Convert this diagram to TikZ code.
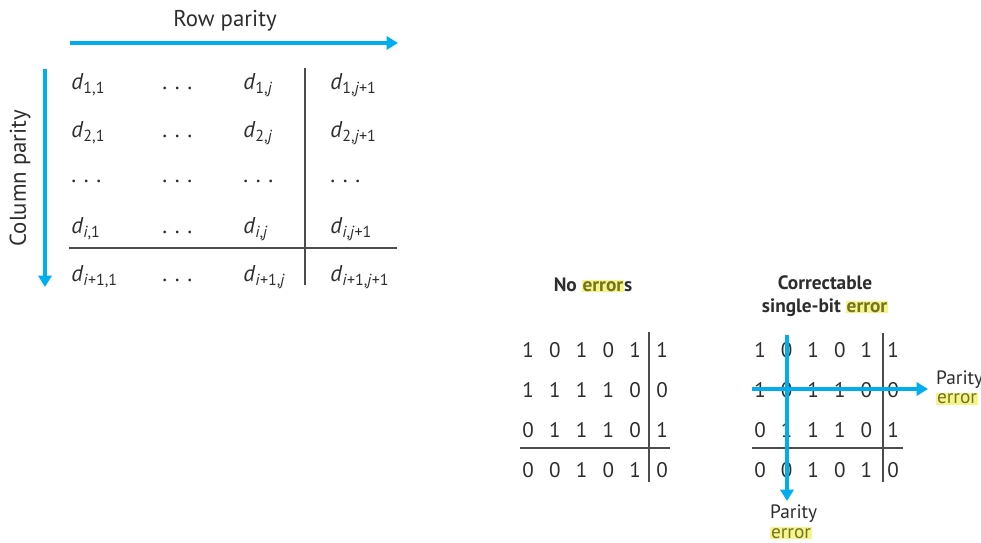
\documentclass[tikz,border=0pt]{standalone}
\usepackage{fontspec}
\setmainfont{PT Sans}
\usetikzlibrary{arrows.meta}
\definecolor{parblue}{RGB}{0,174,239}
\definecolor{hilite}{RGB}{245,245,140}
\definecolor{errtext}{RGB}{115,115,35}
\definecolor{ink}{RGB}{45,45,45}
\newcommand{\dsub}[2]{\textit{d}\textsubscript{#1,#2}}
\newcommand{\hlerr}[1]{{\setlength{\fboxsep}{0.5pt}\colorbox{hilite}{\textcolor{errtext}{#1}}}}

\begin{document}
\begin{tikzpicture}[
  x=0.02cm, y=-0.02cm,
  font=\fontsize{11}{13}\selectfont, text=ink,
  big/.style={font=\fontsize{13}{15}\selectfont},
  cell/.style={big, anchor=base west, inner sep=0pt},
  bit/.style={inner sep=0pt, font=\fontsize{12}{14}\selectfont},
  title/.style={align=center, font=\fontsize{11}{13}\selectfont\bfseries},
  note/.style={align=left, font=\fontsize{11}{11}\selectfont},
  rule/.style={draw=ink!85, line width=1.1pt},
  par/.style={-{Triangle[length=6.5pt,width=7.5pt]}, parblue, line width=2.3pt}
]
\useasboundingbox (0,0) rectangle (981,542);

% --- general two-dimensional parity layout ---
\node[cell] (d11)  at (71,89)  {\dsub{1}{1}};
\node[cell] (d1x)  at (162,89) {.\,\,.\,\,.};
\node[cell] (d1j)  at (243,89) {\dsub{1}{\textit{j}}};
\node[cell] (d1p)  at (330,89) {\dsub{1}{\textit{j}+1}};

\node[cell] (d21)  at (71,137)  {\dsub{2}{1}};
\node[cell] (d2x)  at (162,137) {.\,\,.\,\,.};
\node[cell] (d2j)  at (243,137) {\dsub{2}{\textit{j}}};
\node[cell] (d2p)  at (330,137) {\dsub{2}{\textit{j}+1}};

\node[cell] (dx1)  at (71,182)  {.\,\,.\,\,.};
\node[cell] (dxx)  at (162,182) {.\,\,.\,\,.};
\node[cell] (dxj)  at (243,182) {.\,\,.\,\,.};
\node[cell] (dxp)  at (330,182) {.\,\,.\,\,.};

\node[cell] (di1)  at (71,233)  {\dsub{\textit{i}}{1}};
\node[cell] (dix)  at (162,233) {.\,\,.\,\,.};
\node[cell] (dij)  at (243,233) {\dsub{\textit{i}}{\textit{j}}};
\node[cell] (dip)  at (330,233) {\dsub{\textit{i}}{\textit{j}+1}};

\node[cell] (dq1)  at (71,281)  {\dsub{\textit{i}+1}{1}};
\node[cell] (dqx)  at (162,281) {.\,\,.\,\,.};
\node[cell] (dqj)  at (243,281) {\dsub{\textit{i}+1}{\textit{j}}};
\node[cell] (dqp)  at (330,281) {\dsub{\textit{i}+1}{\textit{j}+1}};

\draw[rule] (305,68) -- (305,285);
\draw[rule] (69,248) -- (397,248);

% parity directions
\node[big] (rowlbl) at (225,21) {Row parity};
\coordinate (rp0) at (70,43);
\coordinate (rp1) at (398,43);
\draw[par] (rp0) -- (rp1);

\node[big, rotate=90] (collbl) at (20,178) {Column parity};
\coordinate (cp0) at (45,69);
\coordinate (cp1) at (45,287);
\draw[par] (cp0) -- (cp1);

% --- example without errors ---
\node[title] (noerr) at (593,285) {No \hlerr{error}s};
\foreach \bits [count=\r] in {{1,0,1,0,1,1},{1,1,1,1,0,0},{0,1,1,1,0,1},{0,0,1,0,1,0}}
  \foreach \b [count=\c] in \bits
    \node[bit] (a\r\c) at ({528+26.8*(\c-1)},{350+40*(\r-1)}) {\b};
\draw[rule] (649,332) -- (649,482);
\draw[rule] (520,448) -- (670,448);

% --- example with one flipped bit ---
\node[title] (oneerr) at (825,296) {Correctable\\single-bit \hlerr{error}};
\foreach \bits [count=\r] in {{1,0,1,0,1,1},{1,0,1,1,0,0},{0,1,1,1,0,1},{0,0,1,0,1,0}}
  \foreach \b [count=\c] in \bits
    \node[bit] (b\r\c) at ({760+26.6*(\c-1)},{350+40*(\r-1)}) {\b};
\draw[rule] (883,333) -- (883,482);
\draw[rule] (752,448) -- (903,448);

\coordinate (rowerr0) at (752,389);
\coordinate (rowerr1) at (928,389);
\coordinate (colerr0) at (787,335);
\coordinate (colerr1) at (787,501);
\draw[par] (rowerr0) -- (rowerr1);
\draw[par] (colerr0) -- (colerr1);

\node[note, anchor=west] (rowpar) at (930,388) {Parity\\\hlerr{error}};
\node[note, anchor=north west] (colpar) at (764,499) {Parity\\\hlerr{error}};
\end{tikzpicture}
\end{document}
